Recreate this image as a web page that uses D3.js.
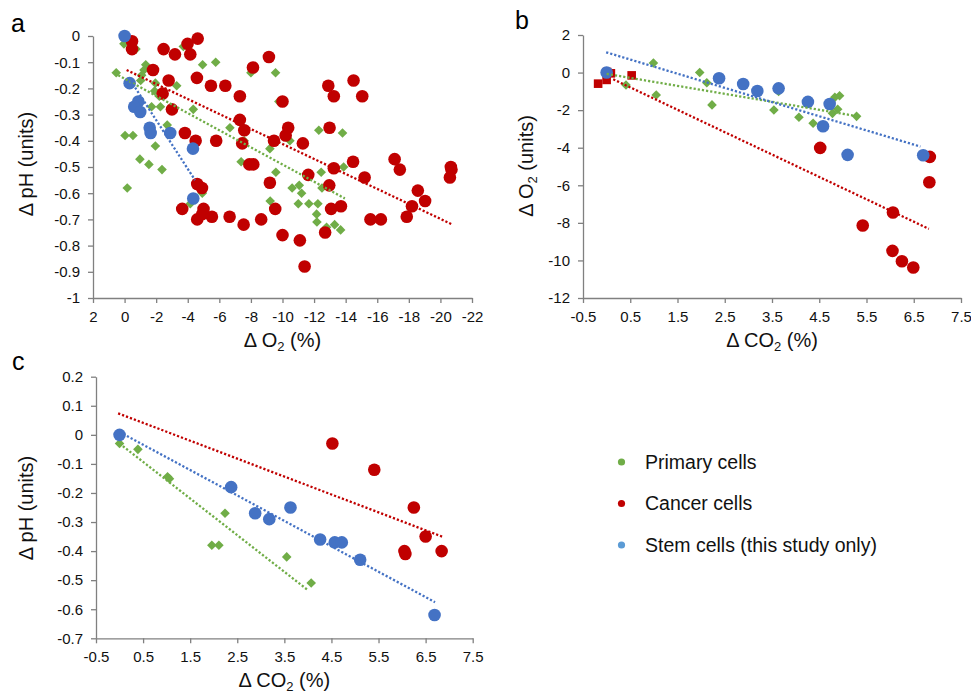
<!DOCTYPE html>
<html>
<head>
<meta charset="utf-8">
<script src="https://cdn.jsdelivr.net/npm/d3@7"></script>
<style>
  body { margin: 0; background: #fff; }
  svg { font-family: 'Liberation Sans', Arial, sans-serif; }
</style>
</head>
<body>
<svg id="chart" width="971" height="694"></svg>
<script>
// ---- data ----

// panel a: dO2 (%) vs dpH (units)
const aPrimary = [
    [0.04, -0.03], [-0.72, -0.05], [-3.72, -0.04], [-4.94, -0.11], [-5.77, -0.10], [0.53, -0.14],
    [-1.34, -0.11], [-1.23, -0.13], [-1.08, -0.15], [-1.02, -0.17], [-1.95, -0.18], [-3.3, -0.19],
    [-1.9, -0.21], [-2.2, -0.23], [-1.71, -0.27], [-2.27, -0.27], [-4.35, -0.28], [-6.67, -0.35],
    [-2.7, -0.34], [-0.03, -0.38], [-0.53, -0.38], [-1.95, -0.42], [-7.57, -0.40], [-7.38, -0.48],
    [-0.97, -0.47], [-1.54, -0.49], [-2.37, -0.51], [-0.17, -0.58], [-4.92, -0.60], [-4.16, -0.64],
    [-8.0, -0.14], [-9.56, -0.14], [-9.77, -0.25], [-10.47, -0.40], [-9.2, -0.43], [-12.3, -0.36],
    [-13.8, -0.37], [-13.87, -0.50], [-9.58, -0.52], [-9.22, -0.63], [-10.61, -0.58], [-11.06, -0.57],
    [-11.21, -0.60], [-12.45, -0.52], [-12.5, -0.58], [-11.0, -0.64], [-11.67, -0.64], [-12.24, -0.64],
    [-13.25, -0.66], [-12.16, -0.68], [-12.18, -0.71], [-12.79, -0.73], [-13.3, -0.72], [-13.68, -0.74]
];
const aCancer = [
    [-0.47, -0.02], [-0.47, -0.05], [-2.47, -0.05], [-3.19, -0.07], [-3.99, -0.03], [-4.16, -0.07],
    [-4.63, -0.01], [-1.8, -0.13], [-2.79, -0.17], [-4.58, -0.16], [-5.47, -0.19], [-6.38, -0.19],
    [-2.41, -0.22], [-7.3, -0.23], [-3.0, -0.28], [-7.3, -0.32], [-7.58, -0.36], [-3.82, -0.37],
    [-4.5, -0.40], [-5.8, -0.40], [-7.45, -0.41], [-7.9, -0.49], [-4.6, -0.565], [-4.9, -0.58],
    [-3.65, -0.66], [-5.0, -0.66], [-4.92, -0.68], [-4.6, -0.70], [-5.53, -0.69], [-6.65, -0.69],
    [-7.54, -0.72], [-9.14, -0.08], [-8.13, -0.12], [-12.9, -0.19], [-14.5, -0.17], [-13.25, -0.23],
    [-15.05, -0.23], [-10.0, -0.25], [-10.36, -0.35], [-10.2, -0.38], [-9.46, -0.40], [-11.29, -0.41],
    [-12.98, -0.35], [-8.15, -0.49], [-13.25, -0.505], [-14.47, -0.48], [-17.1, -0.47], [-17.43, -0.51],
    [-20.66, -0.50], [-20.7, -0.51], [-20.6, -0.54], [-9.2, -0.56], [-9.54, -0.66], [-11.63, -0.53],
    [-12.96, -0.57], [-15.2, -0.54], [-13.08, -0.66], [-13.7, -0.65], [-12.7, -0.75], [-10.0, -0.76],
    [-11.1, -0.78], [-11.4, -0.88], [-8.65, -0.70], [-15.57, -0.70], [-16.23, -0.70], [-18.57, -0.59],
    [-19.03, -0.63], [-18.2, -0.65], [-17.87, -0.69]
];
const aStem = [
    [0, 0], [-0.32, -0.18], [-0.87, -0.25], [-0.61, -0.27], [-0.99, -0.29], [-1.59, -0.35],
    [-1.65, -0.37], [-2.89, -0.37], [-4.33, -0.43], [-4.35, -0.62]
];
// trend lines [x1, y1, x2, y2]
const aTrendPrimary = [0.4, -0.15, -13.95, -0.62];
const aTrendCancer = [-0.13, -0.13, -20.77, -0.72];
const aTrendStem = [-0.38, -0.17, -4.46, -0.55];
const aXTicks = [2, 0, -2, -4, -6, -8, -10, -12, -14, -16, -18, -20, -22];
const aYTicks = ['0', '-0.1', '-0.2', '-0.3', '-0.4', '-0.5', '-0.6', '-0.7', '-0.8', '-0.9', '-1'];

// panel b: dCO2 (%) vs dO2 (units)
const bPrimary = [
    [0, 0], [0.41, -0.66], [0.99, 0.51], [1.05, -1.19], [1.97, 0.0], [2.12, -0.54], [2.23, -1.72],
    [3.64, -1.01], [3.54, -1.99], [4.07, -2.38], [4.37, -2.70], [4.83, -1.32], [4.93, -1.23],
    [4.78, -2.17], [4.89, -1.95], [5.29, -2.33]
];
const bCancerSq = [[-0.18, -0.59], [0.0, -0.39], [0.09, -0.04], [0.01, 0.03], [0.53, -0.15]];
const bCancer = [
    [4.52, -4.01], [6.84, -4.49], [6.83, -5.84], [6.06, -7.45], [5.42, -8.14], [6.05, -9.49],
    [6.25, -10.04], [6.49, -10.38]
];
const bStem = [
    [0, 0], [2.38, -0.30], [2.89, -0.61], [3.19, -0.98], [3.64, -0.84], [4.26, -1.56], [4.72, -1.67],
    [4.58, -2.86], [5.10, -4.38], [6.7, -4.40]
];
const bTrendPrimary = [0, -0.07, 5.32, -2.33];
const bTrendCancer = [0.14, -0.36, 6.82, -8.32];
const bTrendStem = [-0.01, 1.08, 6.64, -3.94];
const bXTicks = ['-0.5', '0.5', '1.5', '2.5', '3.5', '4.5', '5.5', '6.5', '7.5'];
const bYTicks = [2, 0, -2, -4, -6, -8, -10, -12];

// panel c: dCO2 (%) vs dpH (units)
const cPrimary = [
    [0, -0.03], [0.39, -0.05], [1.02, -0.144], [1.06, -0.151], [2.24, -0.27], [1.96, -0.38],
    [2.11, -0.38], [3.55, -0.42], [4.07, -0.51]
];
const cCancer = [
    [4.52, -0.03], [5.41, -0.12], [6.25, -0.25], [6.5, -0.35], [6.05, -0.40], [6.07, -0.41], [6.84, -0.40]
];
const cStem = [
    [0, 0], [2.37, -0.18], [2.88, -0.27], [3.18, -0.29], [3.63, -0.25], [4.26, -0.36], [4.57, -0.37],
    [4.72, -0.37], [5.11, -0.43], [6.69, -0.62]
];
const cTrendPrimary = [0, -0.03, 3.99, -0.533];
const cTrendCancer = [-0.03, 0.074, 6.85, -0.35];
const cTrendStem = [0, 0.01, 6.7, -0.576];
const cXTicks = ['-0.5', '0.5', '1.5', '2.5', '3.5', '4.5', '5.5', '6.5', '7.5'];
const cYTicks = ['0.2', '0.1', '0', '-0.1', '-0.2', '-0.3', '-0.4', '-0.5', '-0.6', '-0.7'];

const legendLabels = ['Primary cells', 'Cancer cells', 'Stem cells (this study only)'];

const colors = {
    primary: '#70ad47',
    cancer: '#c00000',
    stem: '#4472c4',
    stemLegend: '#5b9bd5',
    axis: '#808080',
    text: '#111'
};

const svg = d3.select('#chart');

function diamond(r) {
    return `M0,${-r}L${r},0L0,${r}L${-r},0Z`;
}

function drawPanel(p) {
    const x = d3.scaleLinear().domain(p.xDomain).range(p.xRange);
    const y = d3.scaleLinear().domain(p.yDomain).range(p.yRange);
    const g = svg.append('g');

    const xAxis = d3.axisBottom(x)
        .tickValues(p.xTicks.map(Number))
        .tickFormat((d, i) => String(p.xTicks[i]))
        .tickSize(5).tickSizeOuter(0).tickPadding(8);
    const yAxis = d3.axisLeft(y)
        .tickValues(p.yTicks.map(Number))
        .tickFormat((d, i) => String(p.yTicks[i]))
        .tickSize(5).tickSizeOuter(0).tickPadding(8);

    const xg = g.append('g').attr('transform', `translate(0,${p.yRange[0]})`).call(xAxis);
    const yg = g.append('g').attr('transform', `translate(${p.xRange[0]},0)`).call(yAxis);
    [xg, yg].forEach(a => {
        a.selectAll('path, line').attr('stroke', colors.axis).attr('stroke-width', 1.3);
        a.selectAll('text').attr('fill', colors.text).style('font-size', '15px')
            .style('font-family', "'Liberation Sans', Arial, sans-serif");
    });

    // markers
    p.series.forEach(s => {
        const m = g.append('g');
        if (s.shape === 'circle') {
            m.selectAll('circle').data(s.data).enter().append('circle')
                .attr('cx', d => x(d[0])).attr('cy', d => y(d[1])).attr('r', 6.3)
                .attr('fill', s.color);
        } else if (s.shape === 'square') {
            m.selectAll('rect').data(s.data).enter().append('rect')
                .attr('x', d => x(d[0]) - 4.3).attr('y', d => y(d[1]) - 4.3)
                .attr('width', 8.6).attr('height', 8.6)
                .attr('fill', s.color);
        } else {
            m.selectAll('path').data(s.data).enter().append('path')
                .attr('d', diamond(4.8))
                .attr('transform', d => `translate(${x(d[0])},${y(d[1])})`)
                .attr('fill', s.color);
        }
    });

    // dotted trend lines
    p.trends.forEach(t => {
        g.append('line')
            .attr('x1', x(t.v[0])).attr('y1', y(t.v[1]))
            .attr('x2', x(t.v[2])).attr('y2', y(t.v[3]))
            .attr('stroke', t.color).attr('stroke-width', 2.3)
            .attr('stroke-dasharray', '2.2 2');
    });

    // axis titles
    const xt = g.append('text')
        .attr('x', (p.xRange[0] + p.xRange[1]) / 2).attr('y', p.xTitleY)
        .attr('text-anchor', 'middle').style('font-size', '20px').attr('fill', colors.text);
    p.xTitle.forEach(part => {
        const ts = xt.append('tspan').text(part.t);
        if (part.sub) ts.style('font-size', '13px').attr('dy', 3.5);
        if (part.after) ts.attr('dy', -3.5);
    });

    const yt = g.append('text')
        .attr('transform', `translate(${p.yTitleX},${p.yTitleCY}) rotate(-90)`)
        .attr('text-anchor', 'middle').style('font-size', '20px').attr('fill', colors.text);
    p.yTitle.forEach(part => {
        const ts = yt.append('tspan').text(part.t);
        if (part.sub) ts.style('font-size', '13px').attr('dy', 3.5);
        if (part.after) ts.attr('dy', -3.5);
    });

    svg.append('text').attr('x', p.letter[1]).attr('y', p.letter[2])
        .style('font-size', '25px').attr('fill', '#000').text(p.letter[0]);
}

drawPanel({
    xDomain: [2, -22], xRange: [93, 472],
    yDomain: [-1, 0], yRange: [298, 36],
    xTicks: aXTicks, yTicks: aYTicks,
    series: [
        {data: aPrimary, color: colors.primary, shape: 'diamond'},
        {data: aCancer, color: colors.cancer, shape: 'circle'},
        {data: aStem, color: colors.stem, shape: 'circle'}
    ],
    trends: [
        {v: aTrendPrimary, color: colors.primary},
        {v: aTrendCancer, color: colors.cancer},
        {v: aTrendStem, color: colors.stem}
    ],
    xTitle: [{t: '\u0394 O'}, {t: '2', sub: true}, {t: ' (%)', after: true}],
    xTitleY: 347,
    yTitle: [{t: '\u0394 pH (units)'}],
    yTitleX: 33, yTitleCY: 164,
    letter: ['a', 11, 32]
});

drawPanel({
    xDomain: [-0.5, 7.5], xRange: [583, 961],
    yDomain: [-12, 2], yRange: [298, 35],
    xTicks: bXTicks, yTicks: bYTicks,
    series: [
        {data: bPrimary, color: colors.primary, shape: 'diamond'},
        {data: bCancerSq, color: colors.cancer, shape: 'square'},
        {data: bCancer, color: colors.cancer, shape: 'circle'},
        {data: bStem, color: colors.stem, shape: 'circle'}
    ],
    trends: [
        {v: bTrendPrimary, color: colors.primary},
        {v: bTrendCancer, color: colors.cancer},
        {v: bTrendStem, color: colors.stem}
    ],
    xTitle: [{t: '\u0394 CO'}, {t: '2', sub: true}, {t: ' (%)', after: true}],
    xTitleY: 347,
    yTitle: [{t: '\u0394 O'}, {t: '2', sub: true}, {t: ' (units)', after: true}],
    yTitleX: 533, yTitleCY: 166,
    letter: ['b', 515, 29]
});

drawPanel({
    xDomain: [-0.5, 7.5], xRange: [96, 472.7],
    yDomain: [-0.7, 0.2], yRange: [638.3, 376.7],
    xTicks: cXTicks, yTicks: cYTicks,
    series: [
        {data: cPrimary, color: colors.primary, shape: 'diamond'},
        {data: cCancer, color: colors.cancer, shape: 'circle'},
        {data: cStem, color: colors.stem, shape: 'circle'}
    ],
    trends: [
        {v: cTrendPrimary, color: colors.primary},
        {v: cTrendCancer, color: colors.cancer},
        {v: cTrendStem, color: colors.stem}
    ],
    xTitle: [{t: '\u0394 CO'}, {t: '2', sub: true}, {t: ' (%)', after: true}],
    xTitleY: 687,
    yTitle: [{t: '\u0394 pH (units)'}],
    yTitleX: 33, yTitleCY: 508,
    letter: ['c', 12, 370]
});

// legend
const legendColors = [colors.primary, colors.cancer, colors.stemLegend];
const legendY = d3.scalePoint().domain(legendLabels).range([462, 545]);
const legendG = svg.append('g');
legendLabels.forEach((lab, i) => {
    legendG.append('circle')
        .attr('cx', 621.5).attr('cy', legendY(lab)).attr('r', 3.6)
        .attr('fill', legendColors[i]);
    legendG.append('text')
        .attr('x', 645).attr('y', legendY(lab) + 6.5)
        .style('font-size', '19.5px').attr('fill', colors.text)
        .text(lab);
});
</script>
</body>
</html>
